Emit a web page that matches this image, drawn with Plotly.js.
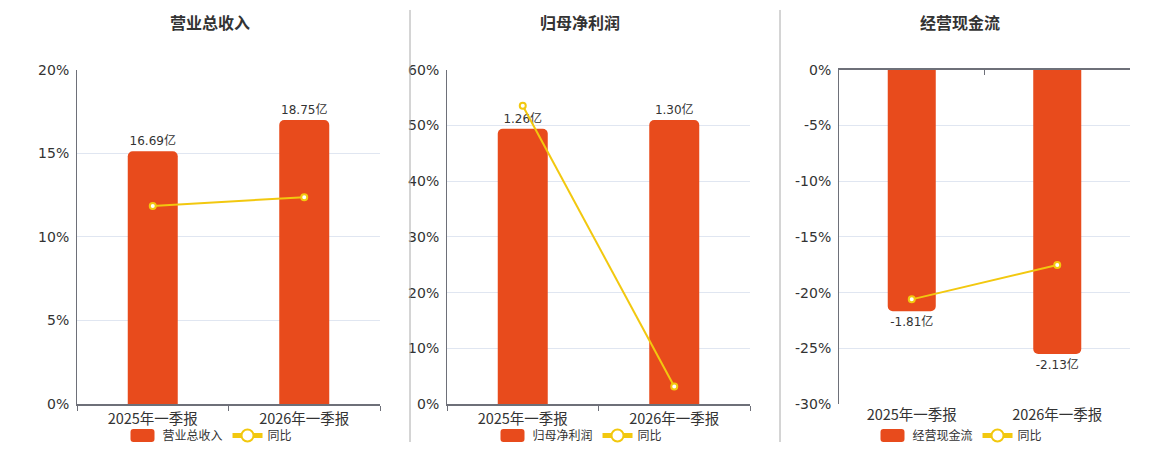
<!DOCTYPE html>
<html><head><meta charset="utf-8">
<script src="https://cdn.plot.ly/plotly-3.0.1.min.js"></script>
<style>html,body{margin:0;padding:0;background:#fff}#chart{width:1160px;height:450px}</style>
</head><body><div id="chart"></div>
<script>
const categories = ['2025年一季报', '2026年一季报'];
const panelTitles = ['营业总收入', '归母净利润', '经营现金流'];
const revenue = [16.69, 18.75];
const revenueYoY = [11.86, 12.38];
const profit = [1.26, 1.30];
const profitYoY = [53.55, 3.17];
const cashflow = [-1.81, -2.13];
const cashflowYoY = [-20.6, -17.52];
const ticks1 = [0, 5, 10, 15, 20];
const ticks2 = [0, 10, 20, 30, 40, 50, 60];
const ticks3 = [0, -5, -10, -15, -20, -25, -30];

const BAR = '#e84b1c', LINE = '#f2c80f', AXIS = '#6e7079', GRID = '#e0e6f1', TXT = '#333';
const FONT = 'DejaVu Sans, Noto Sans CJK SC, sans-serif';
const CJK = 'Noto Sans CJK SC, DejaVu Sans, sans-serif';

const panels = [
  {bars: revenue, yoy: revenueYoY, ticks: ticks1, dom: [77, 380], center: 210, neg: false},
  {bars: profit, yoy: profitYoY, ticks: ticks2, dom: [447, 750], center: 580, neg: false},
  {bars: cashflow, yoy: cashflowYoY, ticks: ticks3, dom: [839, 1130], center: 960, neg: true}
];
const W = 1160, H = 450;
const yDom = [(H - 405) / H, (H - 70) / H];
const catRange = [-0.5, categories.length - 0.5];
const data = [];
const layout = {
  width: W, height: H, margin: {l: 0, r: 0, t: 0, b: 0},
  paper_bgcolor: '#fff', plot_bgcolor: 'rgba(0,0,0,0)',
  font: {family: FONT, color: TXT, size: 12},
  bargap: 0.67, showlegend: true,
  annotations: [], shapes: []
};

panels.forEach((p, i) => {
  const n = i + 1;
  const xb = 'x' + n, yb = 'y' + n;
  const xl = 'x' + (n + 3), yl = 'y' + (n + 3);
  const legendName = i === 0 ? 'legend' : 'legend' + n;
  const maxAbs = Math.max(...p.bars.map(Math.abs));
  const barRange = p.neg ? [-maxAbs / 0.85, 0] : [0, maxAbs / 0.85];
  const pctRange = [Math.min(...p.ticks), Math.max(...p.ticks)];
  const domX = [p.dom[0] / W, p.dom[1] / W];

  data.push({
    type: 'bar', x: categories, y: p.bars, xaxis: xb, yaxis: yb,
    name: panelTitles[i], legend: legendName,
    marker: {color: BAR, cornerradius: 5},
    text: p.bars.map(v => v.toFixed(2) + '亿'),
    textposition: 'outside', cliponaxis: false,
    textfont: {family: FONT, size: 12, color: TXT},
    hoverinfo: 'skip'
  });
  data.push({
    type: 'scatter', mode: 'lines+markers', x: categories, y: p.yoy,
    xaxis: xl, yaxis: yl, name: '同比', legend: legendName,
    line: {color: LINE, width: 2},
    marker: {color: '#fff', size: 6, line: {color: LINE, width: 2}},
    cliponaxis: false, hoverinfo: 'skip'
  });

  layout['xaxis' + n] = {
    domain: domX, anchor: yb, type: 'category', side: 'bottom', range: catRange,
    showline: !p.neg, linecolor: AXIS, linewidth: 2,
    ticks: p.neg ? '' : 'outside', ticklen: 5, tickcolor: AXIS, tickwidth: 1,
    tickson: 'boundaries', showgrid: false, zeroline: false,
    tickfont: {family: CJK, size: 14.5, color: TXT}, fixedrange: true
  };
  layout['yaxis' + n] = {
    domain: yDom, anchor: xb, range: barRange, visible: false,
    showgrid: false, zeroline: false, fixedrange: true
  };
  layout['xaxis' + (n + 3)] = {
    domain: domX, anchor: yl, overlaying: xb, type: 'category', range: catRange,
    side: p.neg ? 'top' : 'bottom',
    showline: p.neg, linecolor: AXIS, linewidth: 2,
    ticks: p.neg ? 'inside' : '', ticklen: 5, tickcolor: AXIS,
    tickson: 'boundaries', showticklabels: false, showgrid: false,
    zeroline: false, fixedrange: true
  };
  layout['yaxis' + (n + 3)] = {
    domain: yDom, anchor: xl, overlaying: yb, side: 'left',
    range: pctRange, tickmode: 'array', tickvals: p.ticks,
    ticktext: p.ticks.map(v => v + '%'),
    showline: true, linecolor: AXIS, linewidth: 1,
    showgrid: true, gridcolor: GRID, gridwidth: 1, zeroline: false,
    ticks: '', ticklabelstandoff: 4,
    tickfont: {family: FONT, size: 14, color: TXT}, fixedrange: true
  };
  layout[legendName] = {
    orientation: 'h', x: p.center / W,
    xanchor: 'center', y: (H - 436) / H, yanchor: 'middle',
    font: {family: CJK, size: 12, color: TXT}, bgcolor: 'rgba(0,0,0,0)',
    itemsizing: 'constant', itemwidth: 30, tracegroupgap: 0, traceorder: 'normal'
  };
  layout.annotations.push({
    xref: 'paper', yref: 'paper', x: p.center / W, y: (H - 22) / H,
    xanchor: 'center', yanchor: 'middle', showarrow: false,
    text: '<b>' + panelTitles[i] + '</b>',
    font: {family: CJK, size: 16, color: TXT}
  });
});

[410, 780].forEach(px => layout.shapes.push({
  type: 'line', xref: 'paper', yref: 'paper',
  x0: px / W, x1: px / W, y0: (H - 443) / H, y1: (H - 10) / H,
  line: {color: '#aaa', width: 1}
}));

const SWATCH = 'M-9,-6.5H9A3,3 0 0 1 12,-3.5V3.5A3,3 0 0 1 9,6.5H-9A3,3 0 0 1 -12,3.5V-3.5A3,3 0 0 1 -9,-6.5Z';
function setSwatch(el) {
  if (el.getAttribute('d') !== SWATCH) el.setAttribute('d', SWATCH);
}
function widenSwatches() {
  document.querySelectorAll('#chart path.legendbar').forEach(setSwatch);
  document.querySelectorAll('#chart .legendpoints path').forEach(el => {
    const st = (el.getAttribute('style') || '') + ' ' + (el.style.fill || '');
    if (/232,\s*75,\s*28/.test(st) || /e84b1c/i.test(st)) setSwatch(el);
  });
  document.querySelectorAll('#chart g.traces').forEach(g => {
    const t = g.querySelector('text.legendtext');
    if (t && panelTitles.includes(t.textContent.trim())) {
      g.querySelectorAll('path').forEach(setSwatch);
    }
  });
}
const gd = document.getElementById('chart');
new MutationObserver(widenSwatches).observe(gd, {childList: true, subtree: true, attributes: true, attributeFilter: ['d', 'style']});
Plotly.newPlot(gd, data, layout, {displayModeBar: false, staticPlot: true}).then(() => {
  widenSwatches();
  if (gd.on) gd.on('plotly_afterplot', widenSwatches);
  setTimeout(widenSwatches, 50);
});
</script></body></html>
